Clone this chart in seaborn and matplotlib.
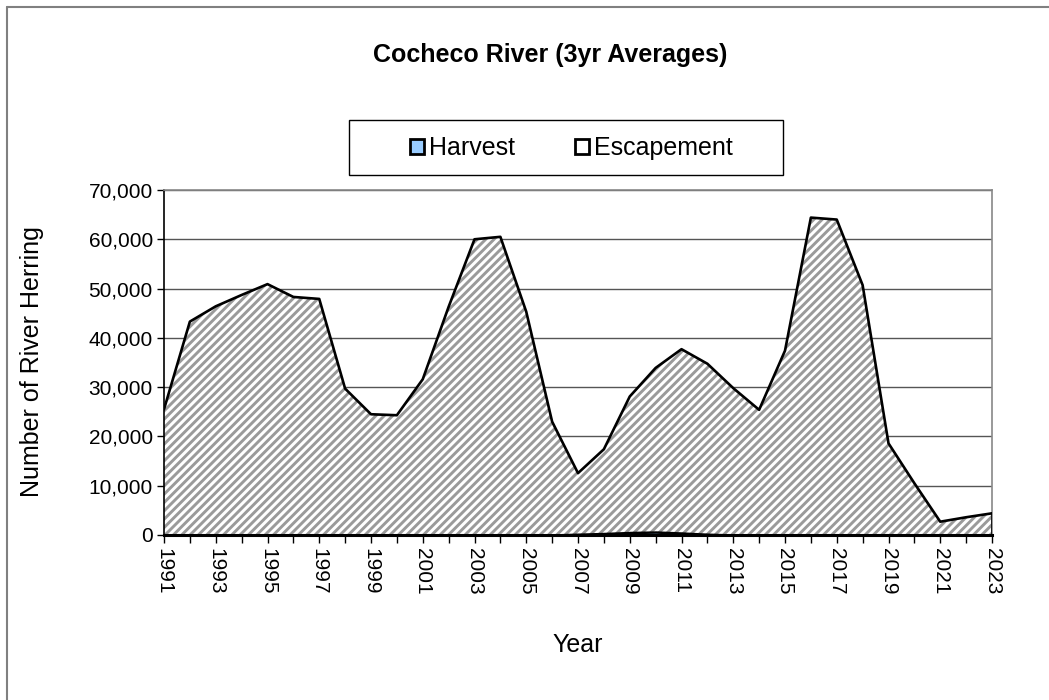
import matplotlib
matplotlib.use("Agg")
import matplotlib.pyplot as plt
import matplotlib.patches as mpatches
from matplotlib.lines import Line2D
from matplotlib.ticker import FuncFormatter, MultipleLocator
import seaborn as sns
import numpy as np

years = list(range(1991, 2024))
harvest = [0, 0, 0, 0, 0, 0, 0, 0, 0, 0, 0, 0, 0, 0, 0, 0,
           150, 300, 500, 600, 400, 150, 0, 0, 0, 0, 0, 0, 0, 0, 0, 0, 0]
escapement = [25500, 43300, 46400, 48700, 50900, 48300, 47900, 29700, 24500, 24300,
              31600, 46300, 60000, 60500, 45300, 23000, 12400, 17100, 27600, 33300,
              37300, 34600, 29800, 25400, 37400, 64400, 64000, 50700, 18600, 10500,
              2700, 3600, 4400]
series_names = ["Harvest", "Escapement"]
title = "Cocheco River (3yr Averages)"
xlabel = "Year"
ylabel = "Number of River Herring"

sns.set_theme(style="white")
plt.rcParams['font.family'] = ['Liberation Sans', 'DejaVu Sans']
plt.rcParams['hatch.linewidth'] = 2.1
plt.rcParams['text.color'] = 'black'
plt.rcParams['xtick.color'] = 'black'
plt.rcParams['ytick.color'] = 'black'

W, H = 1049, 700
fig = plt.figure(figsize=(W/100, H/100), dpi=100)
ax = fig.add_axes([164/W, 1-535/H, 828/W, 345/H])

h = np.array(harvest)
e = np.array(escapement)
total = h + e

ax.fill_between(years, 0, h, facecolor='#99CCFF', edgecolor='black', linewidth=1.8, zorder=3)
ax.fill_between(years, h, total, facecolor='white', edgecolor='#9a9a9a', hatch='////', linewidth=0, zorder=2)
sns.lineplot(x=years, y=total, ax=ax, color='black', linewidth=1.9, zorder=4)
ax.plot([years[-1], years[-1]], [0, total[-1]], color='black', linewidth=1.9, zorder=4)

ax.set_xlim(1991, 2023)
ax.set_ylim(0, 70000)
ax.yaxis.set_major_locator(MultipleLocator(10000))
ax.yaxis.set_major_formatter(FuncFormatter(lambda v, p: f"{int(v):,}"))
ax.set_xticks(years[::2])
ax.set_xticks(years, minor=True)
ax.set_xticklabels([str(y) for y in years[::2]], rotation=270, fontsize=15)
ax.tick_params(axis='y', labelsize=15, length=5, width=1, color='black', direction='out', left=True, pad=3, labelcolor='black')
ax.tick_params(axis='x', which='both', length=6, width=1, color='black', direction='out', bottom=True, pad=3, labelcolor='black')

ax.grid(axis='y', color='#555555', linewidth=1.0)
ax.grid(axis='x', visible=False)
ax.set_axisbelow(True)
for s in ['top', 'right']:
    ax.spines[s].set_color('#888888')
    ax.spines[s].set_linewidth(1.2)
ax.spines['left'].set_color('black')
ax.spines['left'].set_linewidth(1.2)
ax.spines['bottom'].set_color('black')
ax.spines['bottom'].set_linewidth(2.2)
ax.spines['bottom'].set_zorder(5)

ax.set_xlabel("")
ax.set_ylabel("")
fig.text(578/W, 1-645/H, xlabel, ha='center', va='center', fontsize=18)
fig.text(32/W, 1-362/H, ylabel, ha='center', va='center', rotation=90, fontsize=18)
fig.text(550/W, 1-55/H, title, ha='center', va='center', fontsize=18, fontweight='bold')

fig.add_artist(mpatches.Rectangle((349/W, 1-175/H), 434/W, 55/H, transform=fig.transFigure,
                                  facecolor='white', edgecolor='black', linewidth=1.0, zorder=1))
handles = [mpatches.Patch(facecolor='#99CCFF', edgecolor='black', linewidth=2.0),
           mpatches.Patch(facecolor='white', edgecolor='black', linewidth=2.0)]
leg = fig.legend(handles, series_names, loc='center', bbox_to_anchor=(571.5/W, 1-148/H),
                 ncol=2, fontsize=18, frameon=False,
                 handlelength=0.55, handleheight=0.55, handletextpad=0.2, columnspacing=2.4,
                 borderpad=0, borderaxespad=0)
leg.set_zorder(2)

fig.add_artist(Line2D([6.5/W, 1.0], [1-6.5/H, 1-6.5/H], color='#808080', linewidth=1.5, transform=fig.transFigure))
fig.add_artist(Line2D([6.5/W, 6.5/W], [0, 1-6.5/H], color='#808080', linewidth=1.5, transform=fig.transFigure))

fig.savefig("out.png", dpi=100, facecolor='white')
